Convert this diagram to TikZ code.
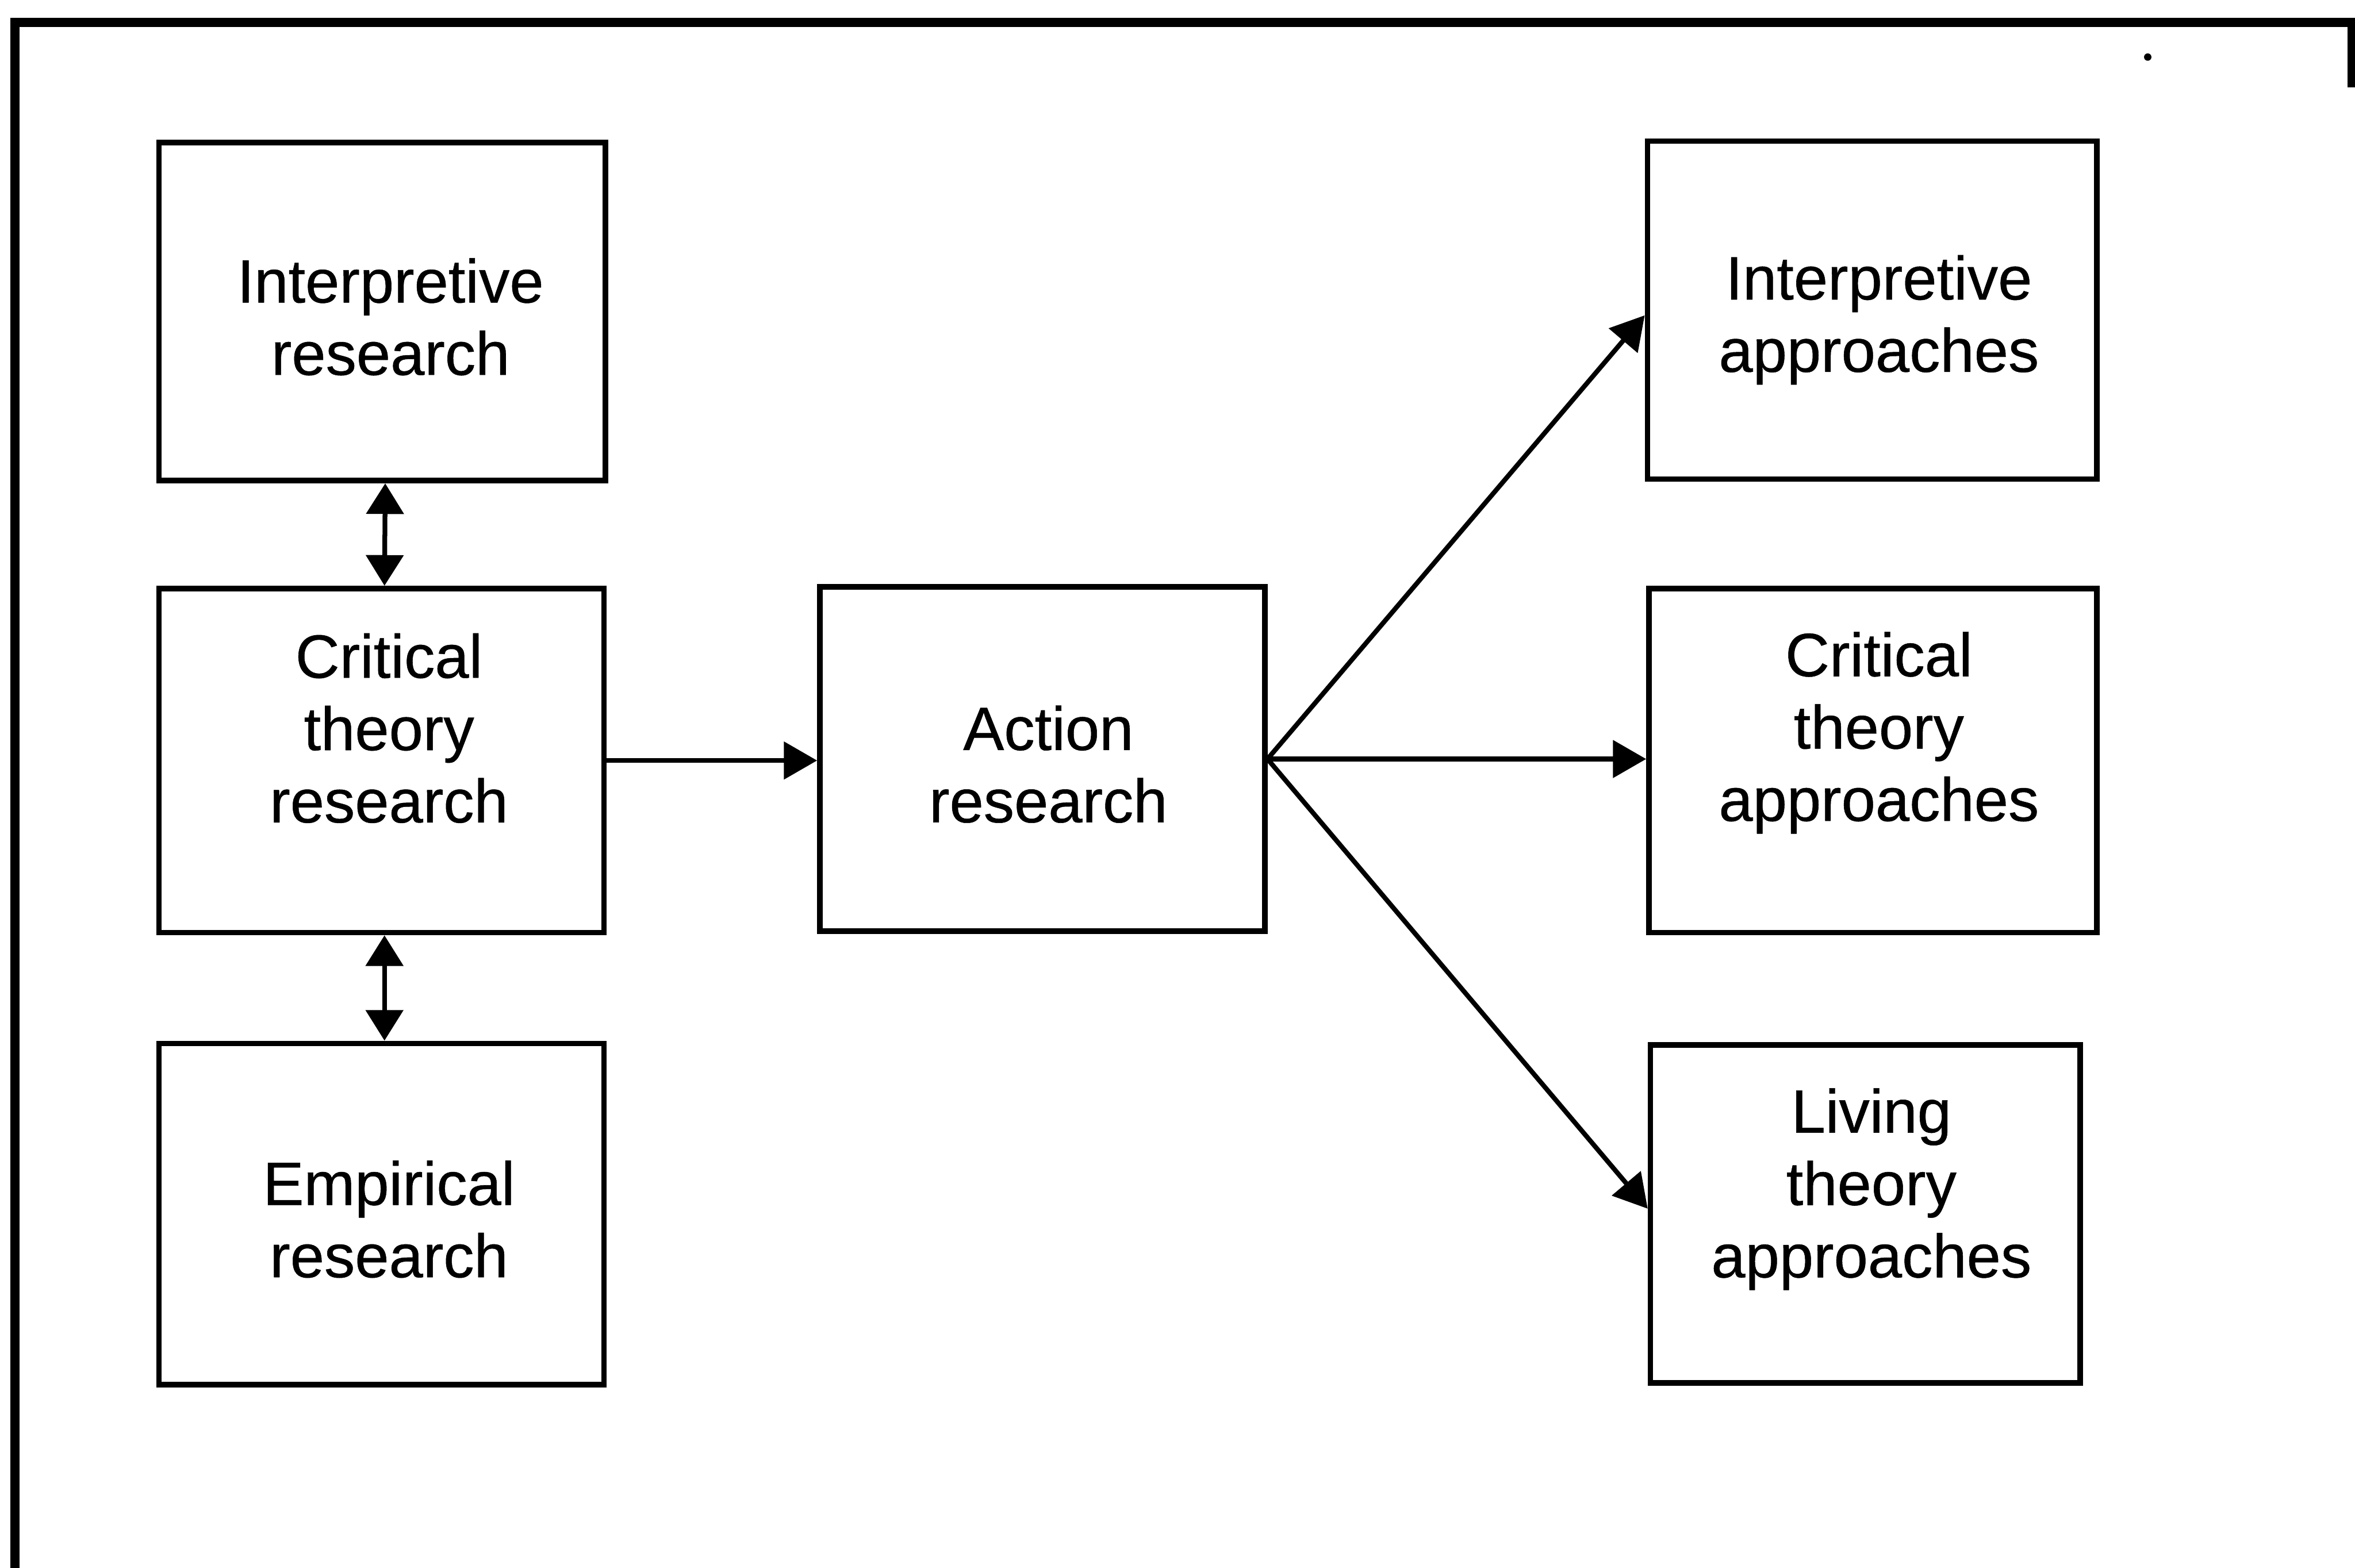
\documentclass[tikz,border=0pt]{standalone}
\usepackage{fontspec}
\setmainfont{Liberation Sans}
\newfontfamily\lblfont{Liberation Sans}[FakeBold=0.5]
\usetikzlibrary{arrows.meta,calc}
\begin{document}
\begin{tikzpicture}[x=0.01cm,y=-0.01cm,
  box/.style={draw,line width=1.05pt,rectangle,inner sep=0pt},
  lbl/.style={align=center,font=\lblfont\fontsize{11.6}{13.7}\selectfont,inner sep=0pt},
  link/.style={line width=0.9pt,-{Triangle[length=6.3pt,width=7pt]}},
  both/.style={line width=0.9pt,{Triangle[length=5.8pt,width=7pt]}-{Triangle[length=5.8pt,width=7pt]}}]
\useasboundingbox (0,0) rectangle (1568,1044);

% outer frame
\draw[line width=1.8pt] (10,1050) -- (10,15) -- (1566,15) -- (1566,58);
\fill (1430,38) circle[radius=0.7pt];

% left column
\node[box,minimum width=2.97cm,minimum height=2.25cm] (ir) at (254.5,207.5) {};
\node[box,minimum width=2.96cm,minimum height=2.29cm] (ctr) at (254,506.5) {};
\node[box,minimum width=2.96cm,minimum height=2.27cm] (er) at (254,808.5) {};

% middle
\node[box,minimum width=2.96cm,minimum height=2.29cm] (ar) at (694,505.5) {};

% right column
\node[box,minimum width=2.99cm,minimum height=2.25cm] (ia) at (1246.5,206.5) {};
\node[box,minimum width=2.98cm,minimum height=2.29cm] (ca) at (1247,506.5) {};
\node[box,minimum width=2.86cm,minimum height=2.25cm] (la) at (1242,808.5) {};

% labels
\node[lbl] (ir-t) at (260,211) {Interpretive\\research};
\node[lbl] (ctr-t) at (259,485) {Critical\\theory\\research};
\node[lbl] (er-t) at (259,812) {Empirical\\research};
\node[lbl] (ar-t) at (698,509) {Action\\research};
\node[lbl] (ia-t) at (1251,213) {Interpretive\\approaches};
\node[lbl] (ca-t) at (1251,488) {Critical\\theory\\approaches};
\node[lbl] (la-t) at (1246,792) {Living\\theory\\approaches};

% connectors
\draw[both] ($(ir.south)+(2,0)$) -- ($(ctr.north)+(2,0)$);
\draw[both] ($(ctr.south)+(2,0)$) -- ($(er.north)+(2,0)$);
\draw[link] (ctr.east) -- (ctr.east -| ar.west);
\draw[link] (ar.east) -- ($(ia.west)+(0,3.5)$);
\draw[link] (ar.east) -- (ar.east -| ca.west);
\draw[link] (ar.east) -- ($(la.west)+(0,-3.5)$);
\end{tikzpicture}
\end{document}
